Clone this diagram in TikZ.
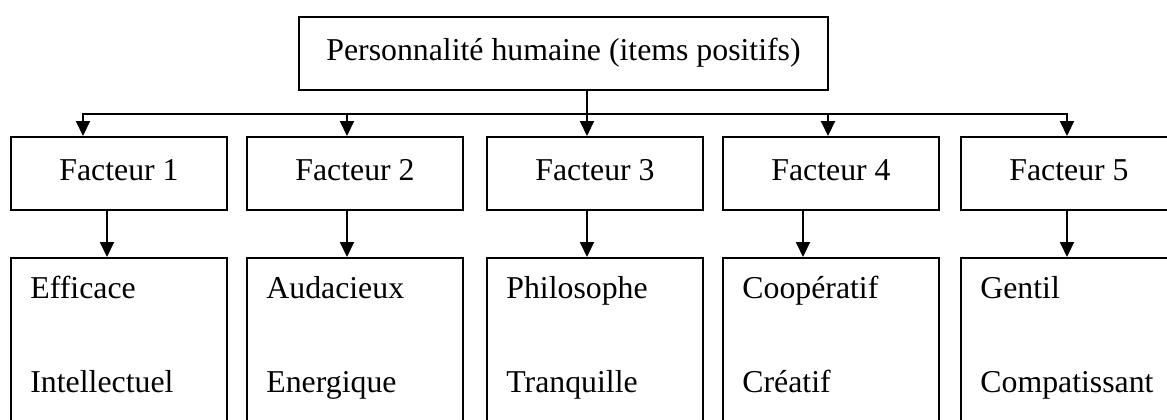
\documentclass[tikz,border=0pt]{standalone}
\usepackage{fontspec}
\setmainfont{Liberation Serif}
\usetikzlibrary{arrows.meta}

\begin{document}
\begin{tikzpicture}[
  x=0.5pt, y=-0.5pt,
  every node/.style={font=\fontsize{15.9}{19}\selectfont, inner sep=0pt},
  hbox/.style={draw, line width=1pt, minimum width=264.5pt, minimum height=36.5pt, text height=10.5pt, text depth=4pt},
  fbox/.style={draw, line width=1pt, minimum width=108pt, minimum height=36.5pt, text height=10.5pt, text depth=4pt},
  ibox/.style={draw, line width=1pt, minimum width=108pt, minimum height=86.5pt, anchor=north},
  word/.style={anchor=base west},
  link/.style={-{Triangle[length=7.5pt,width=7pt]}, line width=1pt},
]
  \useasboundingbox (0,0) rectangle (1167,419);

  \node[hbox] (perso) at (563.5,53.5) {Personnalité humaine (items positifs)};

  \node[fbox] (fac1) at (119,173.5) {Facteur 1};
  \node[fbox] (fac2) at (355,173.5) {Facteur 2};
  \node[fbox] (fac3) at (595,173.5) {Facteur 3};
  \node[fbox] (fac4) at (831,173.5) {Facteur 4};
  \node[fbox] (fac5) at (1069,173.5) {Facteur 5};

  \node[ibox] (items1) at (119,257) {};
  \node[ibox] (items2) at (355,257) {};
  \node[ibox] (items3) at (595,257) {};
  \node[ibox] (items4) at (831,257) {};
  \node[ibox] (items5) at (1069,257) {};

  \node[word] (efficace) at ([xshift=10pt,yshift=-20.5pt]items1.north west) {Efficace};
  \node[word] (intellectuel) at ([xshift=10pt,yshift=-67.5pt]items1.north west) {Intellectuel};
  \node[word] (audacieux) at ([xshift=10pt,yshift=-20.5pt]items2.north west) {Audacieux};
  \node[word] (energique) at ([xshift=10pt,yshift=-67.5pt]items2.north west) {Energique};
  \node[word] (philosophe) at ([xshift=10pt,yshift=-20.5pt]items3.north west) {Philosophe};
  \node[word] (tranquille) at ([xshift=10pt,yshift=-67.5pt]items3.north west) {Tranquille};
  \node[word] (cooperatif) at ([xshift=10pt,yshift=-20.5pt]items4.north west) {Coopératif};
  \node[word] (creatif) at ([xshift=10pt,yshift=-67.5pt]items4.north west) {Créatif};
  \node[word] (gentil) at ([xshift=10pt,yshift=-20.5pt]items5.north west) {Gentil};
  \node[word] (compatissant) at ([xshift=10pt,yshift=-67.5pt]items5.north west) {Compatissant};

  % tronc commun vers les facteurs
  \coordinate (bar) at (587,114);
  \draw[link] ([xshift=-4pt]fac3.north |- perso.south) -- ([xshift=-4pt]fac3.north);
  \draw[link] (bar) -| ([xshift=-18pt]fac1.north);
  \draw[link] (bar) -| ([xshift=-4pt]fac2.north);
  \draw[link] (bar) -| ([xshift=-1.5pt]fac4.north);
  \draw[link] (bar) -| ([xshift=-1pt]fac5.north);

  % facteurs vers items
  \draw[link] ([xshift=-6pt]fac1.south) -- ([xshift=-6pt]fac1.south |- items1.north);
  \draw[link] ([xshift=-4pt]fac2.south) -- ([xshift=-4pt]fac2.south |- items2.north);
  \draw[link] ([xshift=-4pt]fac3.south) -- ([xshift=-4pt]fac3.south |- items3.north);
  \draw[link] ([xshift=-14pt]fac4.south) -- ([xshift=-14pt]fac4.south |- items4.north);
  \draw[link] ([xshift=-1pt]fac5.south) -- ([xshift=-1pt]fac5.south |- items5.north);
\end{tikzpicture}
\end{document}
